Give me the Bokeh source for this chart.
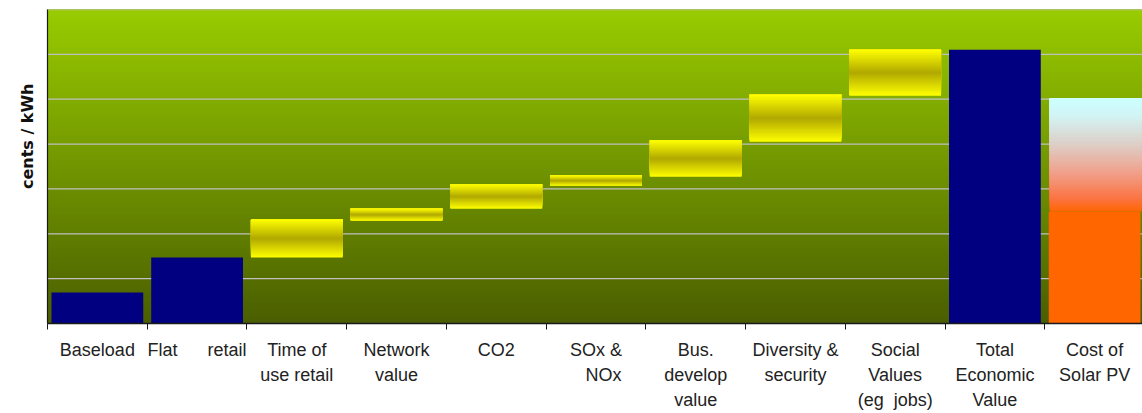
from bokeh.plotting import figure
from bokeh.models import Range1d, FixedTicker, Span, Title, ColumnDataSource
from bokeh.embed import file_html
from bokeh.resources import INLINE

NB = "\u00a0"

# ---------------- data ----------------
category_names = ["Baseload", "Flat retail", "Time of use retail", "Network value", "CO2",
                  "SOx & NOx", "Bus. develop value", "Diversity & security",
                  "Social Values (eg jobs)", "Total Economic Value", "Cost of Solar PV"]
tick_labels = ["Baseload", "Flat" + NB * 6 + "retail", "Time of\nuse retail", "Network\nvalue", "CO2",
               "SOx &\n" + NB * 3 + "NOx", "Bus.\ndevelop\nvalue", "Diversity &\nsecurity",
               "Social\nValues\n(eg" + NB * 2 + "jobs)", "Total\nEconomic\nValue", "Cost of\nSolar PV"]

# solid value bars (cents / kWh)
value_cats = ["Baseload", "Flat retail", "Total Economic Value"]
value_heights = [0.69, 1.47, 6.10]

# floating (waterfall) increments: low and high end of each step
step_cats = ["Time of use retail", "Network value", "CO2", "SOx & NOx",
             "Bus. develop value", "Diversity & security", "Social Values (eg jobs)"]
step_low = [1.47, 2.29, 2.56, 3.07, 3.27, 4.05, 5.08]
step_high = [2.32, 2.56, 3.10, 3.30, 4.08, 5.10, 6.10]

# cost of solar PV: low estimate (solid) and range up to high estimate
pv_cat = "Cost of Solar PV"
pv_low = 2.49
pv_high = 5.01

y_max = 7
grid_values = list(range(1, y_max))

# ---------------- helpers ----------------
def hex_rgb(h):
    return tuple(int(h[i:i + 2], 16) for i in (1, 3, 5))

def color_at(stops, t):
    for (p0, c0), (p1, c1) in zip(stops[:-1], stops[1:]):
        if p0 <= t <= p1:
            f = 0 if p1 == p0 else (t - p0) / (p1 - p0)
            a, b = hex_rgb(c0), hex_rgb(c1)
            return "#%02x%02x%02x" % tuple(round(a[k] + (b[k] - a[k]) * f) for k in range(3))
    return stops[-1][1]

def stripes(left, right, low, high, stops, n, out):
    """Vertical gradient as stacked quads; t measured from the bar's bottom (0) to top (1).
    Each stripe reaches to the top and later stripes cover it, so no seams appear."""
    step = (high - low) / n
    for i in range(n):
        out["left"].append(left)
        out["right"].append(right)
        out["bottom"].append(low + i * step)
        out["top"].append(high)
        out["color"].append(color_at(stops, (i + 0.5) / n))

idx = {c: i for i, c in enumerate(category_names)}
bar_w = 0.92

# ---------------- figure ----------------
p = figure(width=1142, height=413, x_range=Range1d(0, 10.98), y_range=Range1d(0, y_max),
           output_backend="svg", toolbar_location=None,
           min_border_left=47, min_border_right=0, min_border_top=9, min_border_bottom=90)
p.xgrid.visible = False
p.ygrid.visible = False
p.outline_line_color = None
p.background_fill_color = "white"
p.border_fill_color = "white"

# background gradient
bg = dict(left=[], right=[], bottom=[], top=[], color=[])
stripes(0, 11.2, 0, y_max, [(0, "#4a5e00"), (1, "#99cc00")], 300, bg)
p.quad(left="left", right="right", bottom="bottom", top="top", color="color",
       line_color=None, source=ColumnDataSource(bg))

# gridlines (behind bars)
p.segment(x0=[0] * len(grid_values), x1=[11.2] * len(grid_values), y0=grid_values, y1=grid_values,
          line_color="#c0c0c0", line_width=1.2)

# solid navy bars
p.vbar(x=[idx[c] + 0.5 for c in value_cats], top=value_heights, bottom=0, width=bar_w,
       fill_color="#000080", line_color=None)

# waterfall steps with yellow gradient
gold = dict(left=[], right=[], bottom=[], top=[], color=[])
gold_stops = [(0, "#ffff00"), (0.5, "#b0a800"), (1, "#ffff00")]
for c, lo, hi in zip(step_cats, step_low, step_high):
    x = idx[c] + 0.5
    stripes(x - bar_w / 2, x + bar_w / 2, lo, hi, gold_stops, 40, gold)
p.quad(left="left", right="right", bottom="bottom", top="top", color="color",
       line_color=None, source=ColumnDataSource(gold))

# cost of solar PV
xpv = idx[pv_cat] + 0.5
p.vbar(x=[xpv], top=[pv_low], bottom=0, width=bar_w, fill_color="#ff6600", line_color=None)
pv = dict(left=[], right=[], bottom=[], top=[], color=[])
pv_stops = [(0, "#ff6600"), (0.12, "#fb7444"), (0.35, "#f0a18c"), (0.6, "#ddcfc8"),
            (0.85, "#d2f4f4"), (1, "#ccffff")]
stripes(xpv - bar_w / 2 + 0.01, xpv + bar_w / 2 + 0.01, pv_low, pv_high, pv_stops, 80, pv)
p.quad(left="left", right="right", bottom="bottom", top="top", color="color",
       line_color=None, source=ColumnDataSource(pv))

# top border
p.add_layout(Span(location=y_max, dimension="width", line_color="#c0c0c0", line_width=1.5))

# x axis: labels at category centres, ticks at category boundaries
centers = [i + 0.5 for i in range(len(category_names))]
boundaries = list(range(len(category_names) + 1))
p.xaxis.ticker = FixedTicker(ticks=centers, minor_ticks=boundaries)
p.xaxis.major_label_overrides = {c: t for c, t in zip(centers, tick_labels)}
p.xaxis.major_tick_line_color = None
p.xaxis.major_tick_out = 0
p.xaxis.major_tick_in = 0
p.xaxis.minor_tick_line_color = "#1a1a1a"
p.xaxis.minor_tick_out = 6
p.xaxis.minor_tick_in = 0
p.xaxis.axis_line_color = "#1a1a1a"
p.xaxis.axis_line_width = 1.5
p.xaxis.major_label_standoff = 10
p.xaxis.major_label_text_font = "Liberation Sans"
p.xaxis.major_label_text_font_size = "18px"
p.xaxis.major_label_text_color = "#222222"
p.xaxis.major_label_text_line_height = 1.27

p.yaxis.ticker = FixedTicker(ticks=[])
p.yaxis.major_tick_line_color = None
p.yaxis.minor_tick_line_color = None
p.yaxis.axis_line_color = "#1a1a1a"
p.yaxis.axis_line_width = 1.2
p.yaxis.major_label_text_font_size = "0px"

# y axis title
p.add_layout(Title(text="cents / kWh", align="right", offset=74, standoff=22,
                   text_font="DejaVu Sans", text_font_style="bold", text_font_size="16px",
                   text_color="#111111"), "left")

open("out.html", "w").write(file_html(p, INLINE))
